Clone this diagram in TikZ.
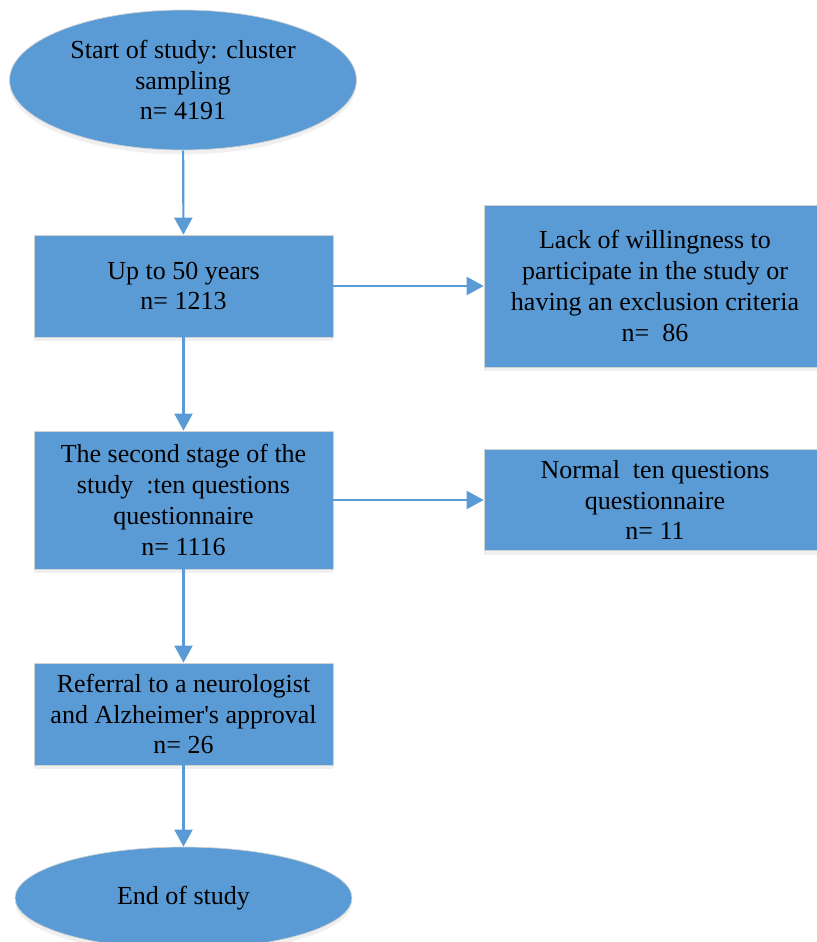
\documentclass[tikz,border=0pt]{standalone}
\usepackage{fontspec}
\setmainfont{Liberation Serif}
\usetikzlibrary{shapes.geometric,arrows.meta,shadows}
\definecolor{flowblue}{HTML}{5B9BD5}
\tikzset{
  stagebox/.style={rectangle,fill=flowblue,draw=gray!35,line width=0.4pt,
    align=center,inner sep=0pt,font=\fontsize{14.8}{17.6}\selectfont,
    drop shadow={shadow xshift=0pt,shadow yshift=-2.5pt,opacity=0.12,fill=gray}},
  termbox/.style={stagebox,ellipse},
  flow/.style={draw=flowblue,line width=1.2pt,-{Triangle[width=0.36cm,length=0.34cm]}}
}
\begin{document}
\begin{tikzpicture}[x=0.02cm,y=-0.02cm]
    \useasboundingbox (0,0) rectangle (817,942);
    \clip (0,0) rectangle (817,942);
    % main column
    \node[termbox,minimum width=6.94cm,minimum height=2.8cm] (start) at (183,80)
      {Start of study: cluster\\sampling\\n= 4191};
    \node[stagebox,minimum width=5.98cm,minimum height=2.04cm] (age) at (183.5,286)
      {Up to 50 years\\n= 1213};
    \node[stagebox,minimum width=5.98cm,minimum height=2.76cm] (second) at (183.5,500)
      {The second stage of the\\study~~:ten questions\\questionnaire\\n= 1116};
    \node[stagebox,minimum width=5.98cm,minimum height=2.04cm] (referral) at (183.5,714)
      {Referral to a neurologist\\and Alzheimer\textquotesingle s approval\\n= 26};
    \node[termbox,minimum width=6.74cm,minimum height=2.04cm] (end) at (183.5,898)
      {End of study};
    % side boxes
    \node[stagebox,minimum width=6.84cm,minimum height=3.24cm] (excluded) at (655,286)
      {Lack of willingness to\\participate in the study or\\having an exclusion criteria\\n=~~86};
    \node[stagebox,minimum width=6.84cm,minimum height=2.02cm] (normal) at (655,500)
      {Normal~~ten questions\\questionnaire\\n= 11};
    \draw[flow] (start) -- (age);
    \draw[flow] (age) -- (second);
    \draw[flow] (second) -- (referral);
    \draw[flow] (referral) -- (end);
    \draw[flow] (age) -- (excluded);
    \draw[flow] (second) -- (normal);
\end{tikzpicture}
\end{document}
